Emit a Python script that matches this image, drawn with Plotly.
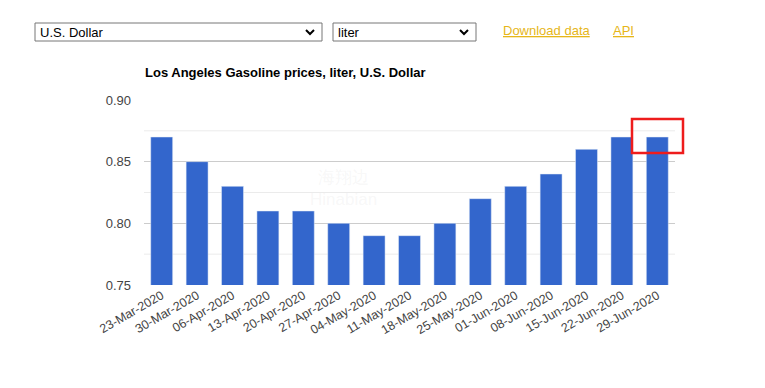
import plotly.graph_objects as go

dates = ["23-Mar-2020", "30-Mar-2020", "06-Apr-2020", "13-Apr-2020", "20-Apr-2020",
         "27-Apr-2020", "04-May-2020", "11-May-2020", "18-May-2020", "25-May-2020",
         "01-Jun-2020", "08-Jun-2020", "15-Jun-2020", "22-Jun-2020", "29-Jun-2020"]
prices = [0.87, 0.85, 0.83, 0.81, 0.81, 0.80, 0.79, 0.79, 0.80, 0.82,
          0.83, 0.84, 0.86, 0.87, 0.87]
y_ticks = [0.75, 0.80, 0.85, 0.90]
minor_ticks = [0.775, 0.825, 0.875]

OFF = 8  # page body margin
W, H = 765 - 2 * OFF, 388 - 2 * OFF
L, R, T, B = 144, 675, 100, 285  # in window pixels

def px(x):
    return (x - L) / (R - L)

def py(y):
    return (B - y) / (B - T)

fig = go.Figure(go.Bar(
    x=dates, y=prices, marker_color="#3366cc", width=0.62,
    hovertemplate="%{x}: %{y:.2f}<extra></extra>"))

shapes = []
for v in minor_ticks:
    shapes.append(dict(type="line", xref="paper", yref="y", x0=0, x1=1, y0=v, y1=v,
                       line=dict(color="#ebebeb", width=1), layer="below"))
# dropdown boxes
for x0, x1 in [(35, 322), (333, 476)]:
    shapes.append(dict(type="rect", xref="paper", yref="paper", x0=px(x0), x1=px(x1),
                       y0=py(41), y1=py(23), line=dict(color="#767676", width=1),
                       fillcolor="white"))
    cx = x1 - 12
    shapes.append(dict(type="path", xref="paper", yref="paper",
                       path=f"M {px(cx-4)},{py(30)} L {px(cx)},{py(34)} L {px(cx+4)},{py(30)}",
                       line=dict(color="black", width=2)))
# red highlight box
shapes.append(dict(type="rect", xref="paper", yref="paper", x0=px(632), x1=px(683),
                   y0=py(153), y1=py(119), line=dict(color="#ee1c1c", width=2.5)))

annotations = [
    dict(text="U.S. Dollar", x=px(38), y=py(32), xanchor="left", yanchor="middle",
         font=dict(size=13, color="black")),
    dict(text="liter", x=px(336), y=py(32), xanchor="left", yanchor="middle",
         font=dict(size=13, color="black")),
    dict(text="<u>Download data</u>", x=px(501), y=py(30), xanchor="left", yanchor="middle",
         font=dict(size=13, color="#e6b619")),
    dict(text="<u>API</u>", x=px(611), y=py(30), xanchor="left", yanchor="middle",
         font=dict(size=13, color="#e6b619")),
    dict(text="<b>Los Angeles Gasoline prices, liter, U.S. Dollar</b>", x=px(143), y=py(72),
         xanchor="left", yanchor="middle", font=dict(size=13, color="black")),
    dict(text="海翔边<br>Hinabian", x=px(343), y=py(188), xanchor="center", yanchor="middle",
         font=dict(size=17, color="rgba(200,200,200,0.15)")),
]
for a in annotations:
    a.update(xref="paper", yref="paper", showarrow=False)

fig.update_layout(
    width=W, height=H,
    margin=dict(l=L - OFF, r=W - (R - OFF), t=T - OFF, b=H - (B - OFF), autoexpand=False),
    paper_bgcolor="white", plot_bgcolor="white",
    font=dict(family="Liberation Sans, Arial, sans-serif", size=12, color="#444444"),
    showlegend=False,
    bargap=0.38,
    shapes=shapes,
    annotations=annotations,
    xaxis=dict(tickangle=-30, showgrid=False, zeroline=False, showline=False,
               ticks="", tickfont=dict(size=12.5, color="#444444")),
    yaxis=dict(range=[0.75, 0.90], tickvals=y_ticks, ticktext=[f"{v:.2f}" for v in y_ticks],
               showgrid=True, gridcolor="#cccccc", gridwidth=1, zeroline=False,
               showline=False, ticks="", ticklabelstandoff=12,
               tickfont=dict(size=13, color="#444444")),
)

fig.write_html("out.html")
